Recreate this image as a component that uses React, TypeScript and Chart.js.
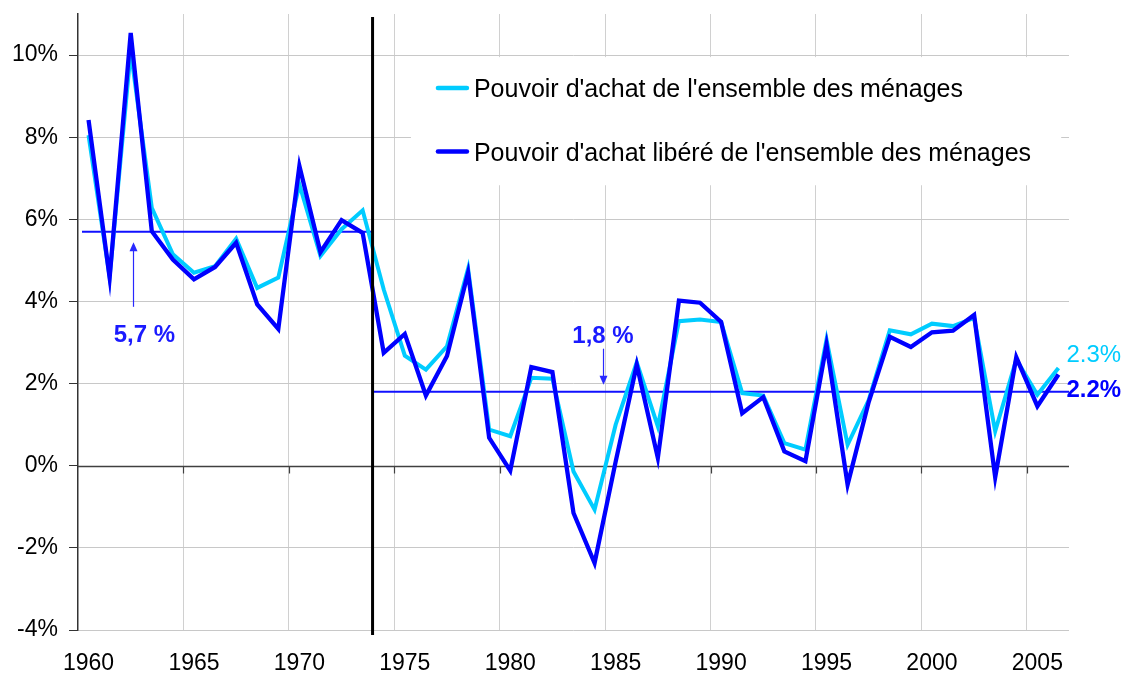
import React, { useEffect, useRef } from 'react';
import { Chart, registerables } from 'chart.js';

Chart.register(...registerables);

const years = [
  1960, 1961, 1962, 1963, 1964, 1965, 1966, 1967, 1968, 1969,
  1970, 1971, 1972, 1973, 1974, 1975, 1976, 1977, 1978, 1979,
  1980, 1981, 1982, 1983, 1984, 1985, 1986, 1987, 1988, 1989,
  1990, 1991, 1992, 1993, 1994, 1995, 1996, 1997, 1998, 1999,
  2000, 2001, 2002, 2003, 2004, 2005, 2006,
];

const pouvoirAchat = [
  8.05, 4.6, 10.1, 6.28, 5.15, 4.7, 4.86, 5.53, 4.33, 4.58,
  6.85, 5.11, 5.76, 6.22, 4.29, 2.68, 2.34, 2.91, 4.8, 0.88,
  0.72, 2.14, 2.12, -0.14, -1.07, 1.0, 2.52, 0.96, 3.52, 3.56,
  3.5, 1.77, 1.71, 0.55, 0.39, 3.07, 0.51, 1.6, 3.3, 3.2,
  3.46, 3.4, 3.6, 0.84, 2.59, 1.73, 2.38,
];

const pouvoirAchatLibere = [
  8.42, 4.58, 10.54, 5.71, 5.02, 4.54, 4.84, 5.43, 3.93, 3.33,
  7.3, 5.2, 5.98, 5.67, 2.75, 3.21, 1.71, 2.67, 4.7, 0.68,
  -0.12, 2.4, 2.28, -1.15, -2.37, 0.1, 2.46, 0.19, 4.02, 3.97,
  3.5, 1.28, 1.67, 0.35, 0.11, 2.95, -0.46, 1.55, 3.14, 2.89,
  3.25, 3.29, 3.67, -0.28, 2.64, 1.45, 2.22,
];

const seriesLabels = [
  "Pouvoir d'achat de l'ensemble des ménages",
  "Pouvoir d'achat libéré de l'ensemble des ménages",
];

const xTickYears = [1960, 1965, 1970, 1975, 1980, 1985, 1990, 1995, 2000, 2005];
const yMin = -4;
const yMax = 11;
const yStep = 2;

const breakYear = 1973.47;
const averageBefore = 5.7;
const averageAfter = 1.8;
const averageLabels = ['5,7 %', '1,8 %'];
const lastValueLabels = ['2.3%', '2.2%'];

const CYAN = '#00ccff';
const BLUE = '#0000ff';
const FONT = "'Liberation Sans', Arial, Helvetica, sans-serif";

const overlayPlugin = {
  id: 'overlay',
  beforeDatasetsDraw(chart: any) {
    const { ctx, scales } = chart;
    const x = scales.x;
    const y = scales.y;
    const area = chart.chartArea;
    const idx = (yr: number) => yr - years[0];
    ctx.save();

    // zero axis line with tick marks
    const y0 = Math.round(y.getPixelForValue(0)) + 0.5;
    ctx.strokeStyle = '#404040';
    ctx.lineWidth = 1.5;
    ctx.beginPath();
    ctx.moveTo(area.left, y0);
    ctx.lineTo(area.right, y0);
    ctx.stroke();
    ctx.lineWidth = 1.2;
    xTickYears.forEach((yr) => {
      if (yr === years[0]) return;
      const px = Math.round(x.getPixelForValue(idx(yr) - 0.5)) + 0.5;
      ctx.beginPath();
      ctx.moveTo(px, y0);
      ctx.lineTo(px, y0 + 7);
      ctx.stroke();
    });

    // legend box
    const lx0 = x.getPixelForValue(15.29);
    const lx1 = x.getPixelForValue(46.13);
    const ly0 = y.getPixelForValue(9.95);
    const ly1 = y.getPixelForValue(6.83);
    ctx.fillStyle = '#ffffff';
    ctx.fillRect(lx0, ly0, lx1 - lx0, ly1 - ly0);

    const colors = [CYAN, BLUE];
    const rows = [9.2, 7.65];
    chart.data.datasets.forEach((ds: any, i: number) => {
      const ry = y.getPixelForValue(rows[i]);
      ctx.strokeStyle = colors[i];
      ctx.lineWidth = 4.5;
      ctx.lineCap = 'round';
      ctx.beginPath();
      ctx.moveTo(lx0 + 27, ry);
      ctx.lineTo(lx0 + 56, ry);
      ctx.stroke();
      ctx.fillStyle = '#000';
      ctx.font = `25px ${FONT}`;
      ctx.textAlign = 'left';
      ctx.textBaseline = 'alphabetic';
      ctx.fillText(ds.label, lx0 + 63, ry + 9);
    });
    ctx.lineCap = 'butt';

    // average lines
    const xb = x.getPixelForValue(idx(breakYear));
    ctx.strokeStyle = '#1010ff';
    ctx.lineWidth = 2;
    ctx.beginPath();
    const ya = y.getPixelForValue(averageBefore);
    ctx.moveTo(x.getPixelForValue(-0.31), ya);
    ctx.lineTo(xb, ya);
    ctx.stroke();
    const yb = y.getPixelForValue(averageAfter);
    ctx.beginPath();
    ctx.moveTo(xb, yb);
    ctx.lineTo(area.right, yb);
    ctx.stroke();
    ctx.restore();
  },
  afterDatasetsDraw(chart: any) {
    const { ctx, scales } = chart;
    const x = scales.x;
    const y = scales.y;
    const area = chart.chartArea;
    const idx = (yr: number) => yr - years[0];
    ctx.save();

    // break line
    const xb = x.getPixelForValue(idx(breakYear));
    ctx.strokeStyle = '#000';
    ctx.lineWidth = 3;
    ctx.beginPath();
    ctx.moveTo(xb, area.top + 3);
    ctx.lineTo(xb, area.bottom + 5);
    ctx.stroke();

    // arrows
    const arrow = (xi: number, fromV: number, toV: number) => {
      const px = Math.round(x.getPixelForValue(xi)) + 0.5;
      const p1 = y.getPixelForValue(fromV);
      const p2 = y.getPixelForValue(toV);
      const dir = p2 < p1 ? -1 : 1;
      ctx.strokeStyle = '#2828ff';
      ctx.fillStyle = '#2828ff';
      ctx.lineWidth = 1.2;
      ctx.beginPath();
      ctx.moveTo(px, p1);
      ctx.lineTo(px, p2 - dir * 8);
      ctx.stroke();
      ctx.beginPath();
      ctx.moveTo(px, p2);
      ctx.lineTo(px - 4, p2 - dir * 9);
      ctx.lineTo(px + 4, p2 - dir * 9);
      ctx.closePath();
      ctx.fill();
    };
    arrow(2.094, 3.87, 5.44);
    arrow(24.42, 2.85, 1.97);

    ctx.font = `bold 24px ${FONT}`;
    ctx.fillStyle = '#1a1aff';
    ctx.textAlign = 'center';
    ctx.textBaseline = 'alphabetic';
    ctx.fillText(averageLabels[0], x.getPixelForValue(2.65), y.getPixelForValue(3.02));
    ctx.fillText(averageLabels[1], x.getPixelForValue(24.4), y.getPixelForValue(3.0));

    // last values
    const lastIdx = years.length - 1;
    const lx = x.getPixelForValue(lastIdx) + 8;
    ctx.textAlign = 'left';
    ctx.font = `24px ${FONT}`;
    ctx.fillStyle = CYAN;
    ctx.fillText(lastValueLabels[0], lx, y.getPixelForValue(2.53));
    ctx.font = `bold 24px ${FONT}`;
    ctx.fillStyle = BLUE;
    ctx.fillText(lastValueLabels[1], lx, y.getPixelForValue(1.68));
    ctx.restore();
  },
};

export default function App() {
  const canvasRef = useRef<HTMLCanvasElement | null>(null);

  useEffect(() => {
    document.body.style.margin = '0';
    const canvas = canvasRef.current;
    if (!canvas) return;
    const chart = new Chart(canvas, {
      type: 'line',
      data: {
        labels: years.map(String),
        datasets: [
          {
            label: seriesLabels[0],
            data: pouvoirAchat,
            borderColor: CYAN,
            backgroundColor: CYAN,
            borderWidth: 4,
            pointRadius: 0,
            tension: 0,
            order: 1,
          },
          {
            label: seriesLabels[1],
            data: pouvoirAchatLibere,
            borderColor: BLUE,
            backgroundColor: BLUE,
            borderWidth: 4.3,
            pointRadius: 0,
            tension: 0,
            order: 0,
          },
        ],
      },
      options: {
        responsive: false,
        animation: false,
        devicePixelRatio: 1,
        layout: { padding: { top: 14, right: 56, left: 0, bottom: 0 } },
        plugins: {
          legend: { display: false },
          tooltip: { enabled: false },
          title: { display: false },
        },
        scales: {
          x: {
            type: 'category',
            offset: true,
            grid: {
              offset: true,
              drawTicks: false,
              lineWidth: 1,
              color: (c: any) => (c.index % 5 === 0 && c.index > 0 && c.index < years.length ? '#d0d0d0' : 'rgba(0,0,0,0)'),
            },
            border: { display: false },
            ticks: {
              autoSkip: false,
              maxRotation: 0,
              minRotation: 0,
              padding: 20,
              color: '#000',
              font: { family: FONT, size: 23 },
              callback: (_v: any, i: number) => (xTickYears.includes(years[i]) ? String(years[i]) : ''),
            },
            afterFit: (s: any) => {
              s.height = 45;
              s.paddingLeft = 0;
              s.paddingRight = 0;
            },
          },
          y: {
            type: 'linear',
            min: yMin,
            max: yMax,
            grid: {
              color: (c: any) => (c.tick && c.tick.value === 0 ? 'rgba(0,0,0,0)' : '#c8c8c8'),
              tickColor: '#333',
              tickLength: 9,
              lineWidth: 1,
            },
            border: { display: true, color: '#333', width: 1.5 },
            ticks: {
              stepSize: yStep,
              includeBounds: false,
              padding: 11,
              color: '#000',
              font: { family: FONT, size: 23 },
              callback: (v: any) => `${v}%`,
            },
            afterFit: (s: any) => {
              s.width = 78;
              s.paddingTop = 0;
              s.paddingBottom = 0;
            },
          },
        },
      },
      plugins: [overlayPlugin],
    });
    return () => chart.destroy();
  }, []);

  return (
    <div style={{ width: 1125, height: 675, background: '#fff' }}>
      <canvas ref={canvasRef} width={1125} height={675} style={{ display: 'block' }} />
    </div>
  );
}
